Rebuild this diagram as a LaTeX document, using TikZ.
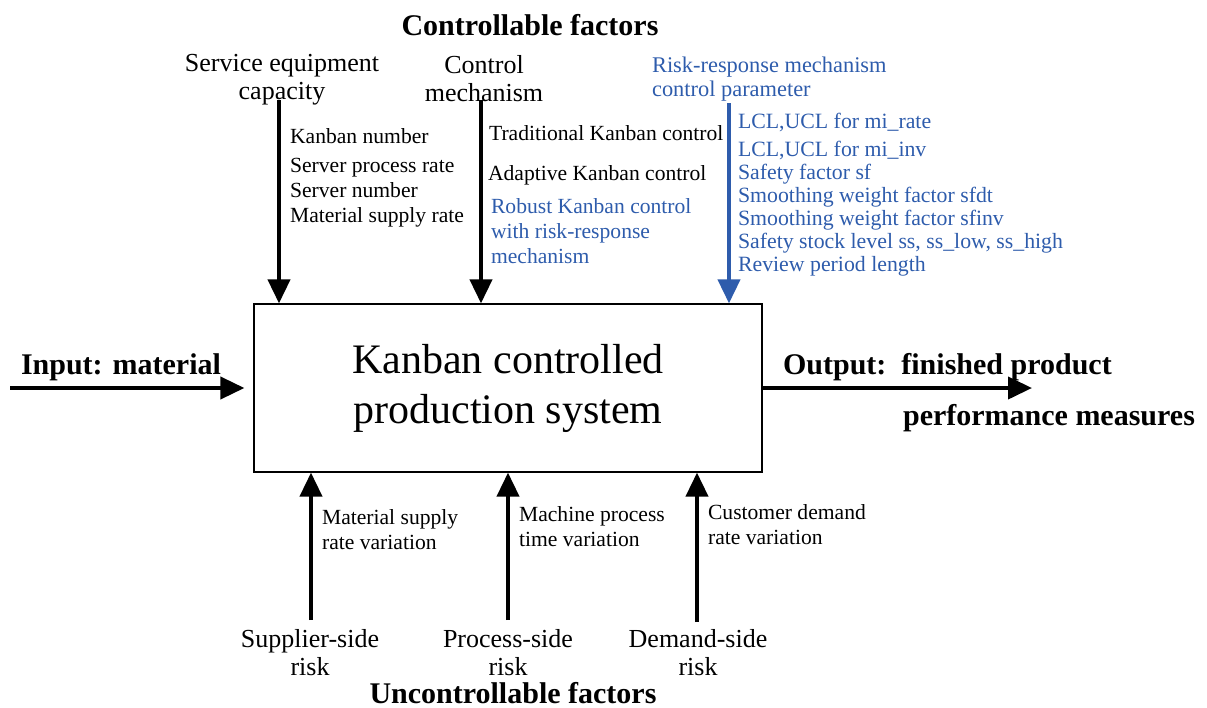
\documentclass[tikz,border=0pt]{standalone}
\usepackage{fontspec}
\setmainfont{Liberation Serif}
\usetikzlibrary{arrows.meta}
\definecolor{riskblue}{RGB}{46,92,172}
\tikzset{flow/.style={line width=2pt,-{Triangle[length=12pt,width=11pt]}}}
\tikzset{factor/.style={font=\fontsize{13}{14}\selectfont,align=center}}
\tikzset{param/.style={font=\fontsize{10.8}{12.5}\selectfont,align=left,anchor=west}}
\tikzset{heading/.style={font=\fontsize{15}{17}\selectfont\bfseries}}

\begin{document}
\begin{tikzpicture}[x=0.5pt,y=-0.5pt]
    \useasboundingbox (0,0) rectangle (1207,708);
    % the system itself
    \node[draw,line width=0.6pt,minimum width=254pt,minimum height=84pt,
      font=\fontsize{21}{25}\selectfont,align=center] (sys) at (508,388)
      {Kanban controlled\\production system};

    % controllable factors on top
    \node[heading] (ctrl) at (530,25) {Controllable factors};
    \node[factor] (cap) at (282,80) {Service equipment\\capacity};
    \node[factor] (mech) at (484,79) {Control\\mechanism};
    \node[param,text=riskblue,font=\fontsize{11.2}{12}\selectfont] (rrm) at (645,79)
      {Risk-response mechanism\\control parameter};
    \coordinate (capin) at (279,100);
    \coordinate (mechin) at (481,100);
    \coordinate (rrmin) at (729,103);
    \draw[flow] (capin) -- (capin |- sys.north);
    \draw[flow] (mechin) -- (mechin |- sys.north);
    \draw[flow,riskblue] (rrmin) -- (rrmin |- sys.north);

    \node[param] (caplist) at (283,178)
      {Kanban number\\[2pt]Server process rate\\Server number\\Material supply rate};
    \node[param] (trad) at (482,133) {Traditional Kanban control};
    \node[param] (adapt) at (481,175) {Adaptive Kanban control};
    \node[param,text=riskblue] (robust) at (484,231)
      {Robust Kanban control\\with risk-response\\mechanism};
    \node[param,text=riskblue,font=\fontsize{10.9}{11.5}\selectfont] (rrmlist) at (731,195)
      {LCL,UCL for mi\_rate\\[2.5pt]LCL,UCL for mi\_inv\\Safety factor sf\\
       Smoothing weight factor sfdt\\Smoothing weight factor sfinv\\
       Safety stock level ss, ss\_low, ss\_high\\Review period length};

    % input and output
    \node[heading] (inp) at (121,367) {Input: material};
    \coordinate (inl) at (10,388);
    \draw[flow,shorten >=4.5pt] (inl) -- (inl -| sys.west);
    \node[heading,anchor=west] (outp) at (776,367) {Output:\ \ finished product};
    \node[heading,anchor=west] (perf) at (896,418) {performance measures};
    \coordinate (outr) at (1032,388);
    \draw[flow] (outr -| sys.east) -- (outr);

    % uncontrollable factors below
    \coordinate (supl) at (311,620);
    \coordinate (proc) at (508,620);
    \coordinate (dem) at (697,622);
    \draw[flow] (supl) -- (supl |- sys.south);
    \draw[flow] (proc) -- (proc |- sys.south);
    \draw[flow] (dem) -- (dem |- sys.south);
    \node[param] (supvar) at (315,530) {Material supply\\rate variation};
    \node[param] (procvar) at (512,527) {Machine process\\time variation};
    \node[param] (demvar) at (701,525) {Customer demand\\rate variation};
    \node[factor,inner sep=0.5pt] (suprisk) at (310,653) {Supplier-side\\risk};
    \node[factor,inner sep=0.5pt] (procrisk) at (508,653) {Process-side\\risk};
    \node[factor,inner sep=0.5pt] (demrisk) at (698,653) {Demand-side\\risk};
    \node[heading,inner sep=0.5pt] (unctrl) at (513,693) {Uncontrollable factors};
\end{tikzpicture}
\end{document}
